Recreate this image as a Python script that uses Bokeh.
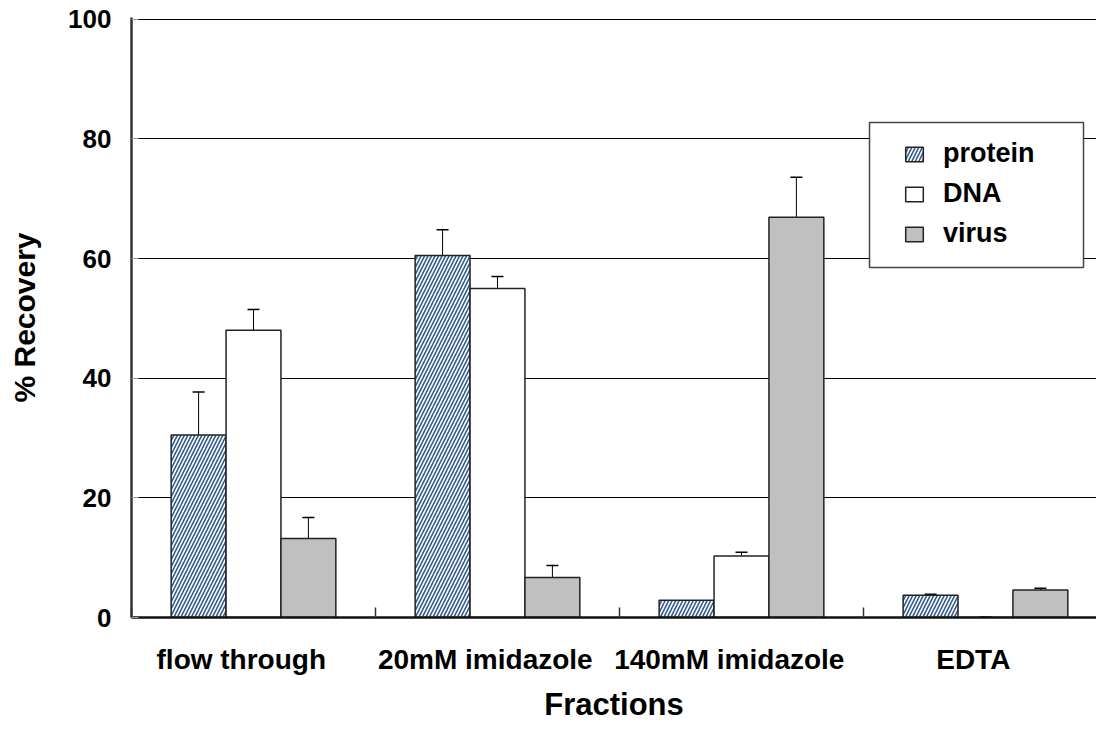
from bokeh.plotting import figure
from bokeh.models import (ColumnDataSource, Range1d, FixedTicker, Whisker, TeeHead,
                          Legend, LegendItem, BoxAnnotation)
from bokeh.transform import dodge
from bokeh.embed import file_html
from bokeh.resources import INLINE
import numpy as np

# Recovery (%) of each component in the column fractions
fractions = ["flow through", "20mM imidazole", "140mM imidazole", "EDTA"]
protein = [30.5, 60.5, 2.9, 3.7]
protein_err = [7.2, 4.3, 0.0, 0.2]
dna = [48.0, 55.0, 10.3, 0.0]
dna_err = [3.5, 2.0, 0.6, 0.1]
virus = [13.2, 6.7, 66.9, 4.6]
virus_err = [3.5, 2.0, 6.7, 0.3]
y_ticks = [0, 20, 40, 60, 80, 100]

FONT = "Liberation Sans"
pos = list(np.arange(len(fractions)) + 0.5)

src = ColumnDataSource(dict(
    pos=pos,
    protein=protein, protein_up=[v + e for v, e in zip(protein, protein_err)],
    dna=dna, dna_up=[v + e for v, e in zip(dna, dna_err)],
    virus=virus, virus_up=[v + e for v, e in zip(virus, virus_err)],
))

p = figure(width=1096, height=745, output_backend="svg", toolbar_location=None,
           x_range=Range1d(0, 3.955), y_range=Range1d(0, 100.3),
           min_border_left=131, min_border_right=0, min_border_top=17,
           min_border_bottom=128)
p.outline_line_color = None
p.background_fill_color = "white"
p.border_fill_color = "white"

bw = 0.225
r_protein = p.vbar(x=dodge("pos", -bw, range=p.x_range), top="protein", width=bw, source=src,
                   fill_color="white", hatch_pattern="right_diagonal_line",
                   hatch_color="#2f5a8a", hatch_scale=7, hatch_weight=1.6,
                   line_color="#222222", line_width=1.5)
r_dna = p.vbar(x=dodge("pos", 0, range=p.x_range), top="dna", width=bw, source=src,
               fill_color="white", line_color="#222222", line_width=1.5)
r_virus = p.vbar(x=dodge("pos", bw, range=p.x_range), top="virus", width=bw, source=src,
                 fill_color="#c0c0c0", line_color="#222222", line_width=1.5)

# upward error bars with a cap
for key, off, errs in (("protein", -bw, protein_err), ("dna", 0, dna_err), ("virus", bw, virus_err)):
    keep = [i for i, e in enumerate(errs) if e > 0]
    esrc = ColumnDataSource(dict(
        x=[pos[i] + off for i in keep],
        lo=[src.data[key][i] for i in keep],
        hi=[src.data[key + "_up"][i] for i in keep],
    ))
    w = Whisker(base="x", lower="lo", upper="hi", source=esrc, dimension="height",
                line_color="black", line_width=1,
                upper_head=TeeHead(size=12, line_color="black", line_width=1.5),
                lower_head=None)
    p.add_layout(w)

# axes
p.yaxis.ticker = FixedTicker(ticks=y_ticks)
p.yaxis.major_label_text_font = FONT
p.yaxis.major_label_text_font_style = "bold"
p.yaxis.major_label_text_font_size = "26px"
p.yaxis.major_label_text_color = "black"
p.yaxis.major_label_standoff = 20
p.yaxis.major_tick_in = 7
p.yaxis.major_tick_out = 0
p.yaxis.major_tick_line_color = "#999999"
p.yaxis.minor_tick_line_color = None
p.yaxis.axis_line_color = "#333333"
p.yaxis.axis_line_width = 2.5
p.yaxis.axis_label = "% Recovery"
p.yaxis.axis_label_text_font = FONT
p.yaxis.axis_label_text_font_style = "bold"
p.yaxis.axis_label_text_font_size = "30px"
p.yaxis.axis_label_text_color = "black"
p.yaxis.axis_label_standoff = 24

# category names sit slightly left of each group's centre
label_shift = -0.05
label_pos = [x + label_shift for x in pos]
p.xaxis.ticker = FixedTicker(ticks=label_pos, minor_ticks=list(range(len(fractions) + 1)))
p.xaxis.major_label_overrides = {float(x): name for x, name in zip(label_pos, fractions)}
p.xaxis.major_label_text_font = FONT
p.xaxis.major_label_text_font_style = "bold"
p.xaxis.major_label_text_font_size = "28px"
p.xaxis.major_label_text_color = "black"
p.xaxis.major_label_standoff = 26
p.xaxis.major_tick_in = 0
p.xaxis.major_tick_out = 0
p.xaxis.minor_tick_in = 10
p.xaxis.minor_tick_out = 0
p.xaxis.minor_tick_line_color = "#333333"
p.xaxis.minor_tick_line_width = 1.5
p.xaxis.axis_line_color = "#111111"
p.xaxis.axis_line_width = 2.5
p.xaxis.axis_label = "Fractions"
p.xaxis.axis_label_text_font = FONT
p.xaxis.axis_label_text_font_style = "bold"
p.xaxis.axis_label_text_font_size = "31px"
p.xaxis.axis_label_text_color = "black"
p.xaxis.axis_label_standoff = 9

p.xgrid.grid_line_color = None
p.ygrid.grid_line_color = "black"
p.ygrid.grid_line_width = 1.2

# legend frame (screen units, measured from the frame's bottom-left corner)
legend_box = BoxAnnotation(left=738, right=952, bottom=350, top=495,
                           left_units="screen", right_units="screen",
                           bottom_units="screen", top_units="screen",
                           fill_color="white", fill_alpha=1.0,
                           line_color="#444444", line_width=1.5, line_alpha=1.0)
p.add_layout(legend_box)

legend = Legend(items=[LegendItem(label="protein", renderers=[r_protein]),
                       LegendItem(label="DNA", renderers=[r_dna]),
                       LegendItem(label="virus", renderers=[r_virus])],
                location=(772, 368))
legend.label_text_font = FONT
legend.label_text_font_style = "bold"
legend.label_text_font_size = "27px"
legend.label_text_color = "black"
legend.label_height = 27
legend.label_standoff = 18
legend.glyph_width = 22
legend.glyph_height = 18
legend.spacing = 9
legend.padding = 10
legend.margin = 0
legend.border_line_color = None
legend.background_fill_alpha = 0.0
p.add_layout(legend)

open("out.html", "w").write(file_html(p, INLINE))
